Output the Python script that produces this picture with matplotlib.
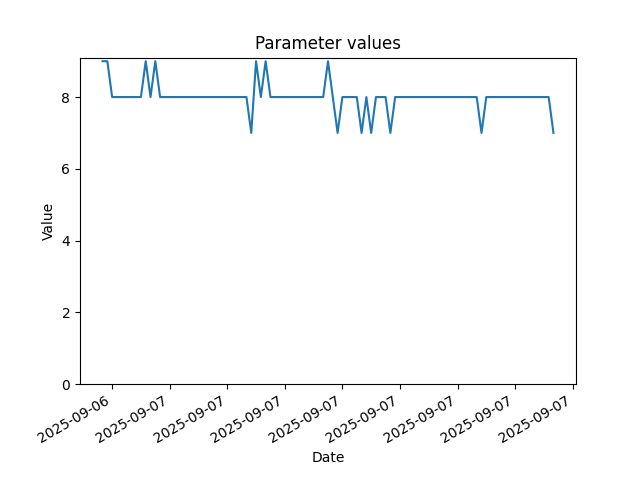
import matplotlib
matplotlib.use("Agg")
import matplotlib.pyplot as plt
import matplotlib.dates as mdates
import pandas as pd

# readings every 15 minutes
start_time = "2025-09-06 20:30"
values = [9, 9, 8, 8, 8, 8, 8, 8, 8, 9,
          8, 9, 8, 8, 8, 8, 8, 8, 8, 8,
          8, 8, 8, 8, 8, 8, 8, 8, 8, 8,
          8, 7, 9, 8, 9, 8, 8, 8, 8, 8,
          8, 8, 8, 8, 8, 8, 8, 9, 8, 7,
          8, 8, 8, 8, 7, 8, 7, 8, 8, 8,
          7, 8, 8, 8, 8, 8, 8, 8, 8, 8,
          8, 8, 8, 8, 8, 8, 8, 8, 8, 7,
          8, 8, 8, 8, 8, 8, 8, 8, 8, 8,
          8, 8, 8, 8, 7]
dates = pd.date_range(start_time, periods=len(values), freq="15min")

fig, ax = plt.subplots(figsize=(6.4, 4.8), dpi=100)
ax.plot(dates, values)
ax.set_ylim(bottom=0)
ax.xaxis.set_major_formatter(mdates.DateFormatter("%Y-%m-%d"))
ax.set_title("Parameter values")
ax.set_xlabel("Date")
ax.set_ylabel("Value")
fig.autofmt_xdate()

fig.savefig("out.png")
